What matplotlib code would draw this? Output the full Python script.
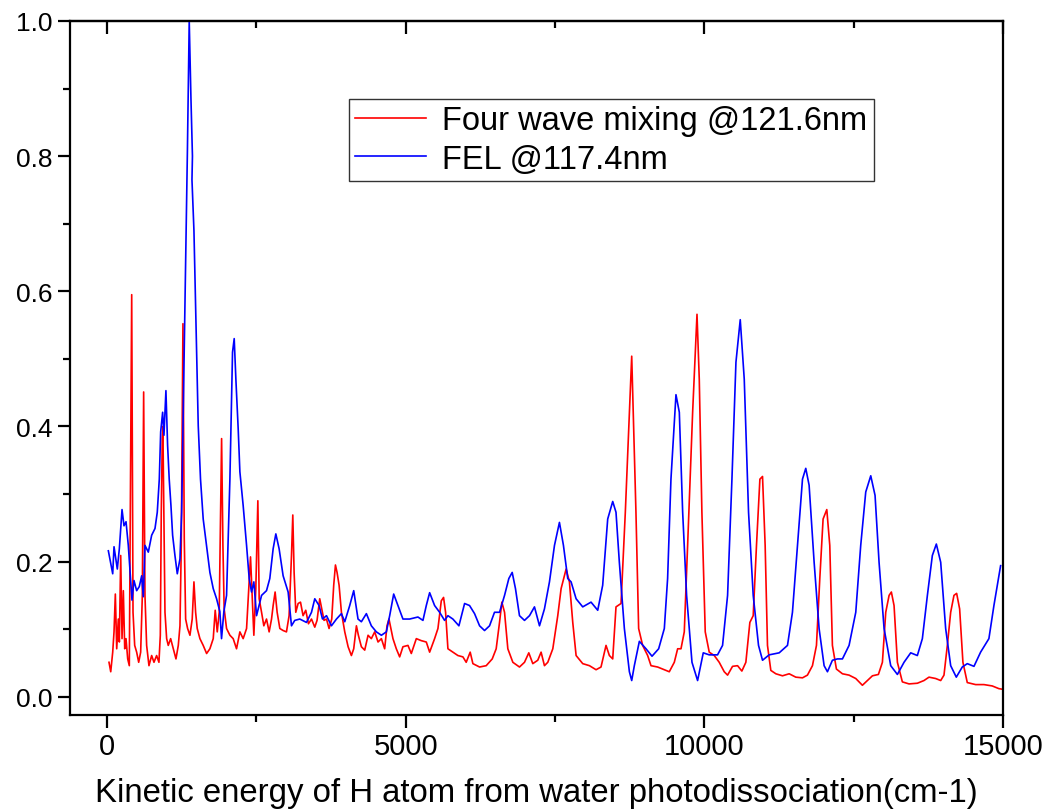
import matplotlib
matplotlib.use("Agg")
import matplotlib.pyplot as plt
from matplotlib.ticker import MultipleLocator

plt.rcParams['font.family'] = ['Liberation Sans', 'DejaVu Sans']

# Four wave mixing @121.6nm (red)
red_x = [33, 62, 95, 117, 139, 162, 189, 206, 229, 251, 273, 296, 318, 346, 373, 390, 413, 435, 463, 496,
         530, 563, 591, 613, 635, 663, 702, 747, 786, 830, 869, 892, 908, 925, 935, 948, 970, 998, 1025, 1065,
         1109, 1154, 1193, 1221, 1243, 1271, 1293, 1316, 1349, 1388, 1426, 1455, 1483, 1510, 1555, 1610, 1667,
         1722, 1778, 1811, 1845, 1878, 1901, 1918, 1940, 1961, 2001, 2057, 2112, 2168, 2224, 2279, 2336, 2363,
         2402, 2436, 2458, 2491, 2525, 2547, 2587, 2625, 2670, 2714, 2754, 2781, 2814, 2848, 2893, 2948, 3004,
         3048, 3088, 3110, 3132, 3160, 3199, 3239, 3282, 3327, 3372, 3423, 3478, 3516, 3561, 3595, 3633, 3674,
         3717, 3762, 3795, 3824, 3851, 3885, 3924, 3980, 4036, 4091, 4130, 4175, 4208, 4258, 4314, 4370, 4425,
         4481, 4537, 4593, 4648, 4687, 4720, 4787, 4843, 4899, 4954, 5038, 5094, 5178, 5262, 5345, 5401, 5484,
         5540, 5596, 5634, 5668, 5707, 5790, 5874, 5958, 6013, 6080, 6125, 6237, 6348, 6449, 6515, 6571, 6610,
         6655, 6710, 6794, 6905, 6989, 7061, 7128, 7211, 7267, 7323, 7379, 7463, 7546, 7602, 7686, 7741, 7797,
         7853, 7964, 8076, 8187, 8270, 8354, 8410, 8466, 8521, 8605, 8677, 8784, 8855, 8900, 8967, 9051, 9107,
         9218, 9302, 9413, 9497, 9553, 9609, 9664, 9720, 9804, 9877, 9915, 9959, 10015, 10082, 10166, 10249,
         10333, 10389, 10472, 10556, 10628, 10695, 10762, 10818, 10873, 10930, 10974, 11018, 11057, 11113,
         11197, 11308, 11420, 11531, 11643, 11726, 11810, 11877, 11933, 11988, 12050, 12100, 12144, 12211,
         12312, 12423, 12535, 12646, 12730, 12814, 12914, 12981, 13037, 13093, 13131, 13176, 13232, 13315,
         13427, 13566, 13677, 13761, 13872, 13957, 14012, 14068, 14124, 14179, 14224, 14274, 14329, 14402,
         14542, 14681, 14820, 14931, 15000]
red_y = [0.051, 0.037, 0.066, 0.096, 0.152, 0.071, 0.115, 0.081, 0.209, 0.086, 0.157, 0.071, 0.086, 0.056,
         0.046, 0.273, 0.595, 0.125, 0.076, 0.066, 0.051, 0.066, 0.150, 0.451, 0.150, 0.076, 0.046, 0.061,
         0.051, 0.061, 0.051, 0.091, 0.273, 0.382, 0.400, 0.300, 0.125, 0.086, 0.076, 0.086, 0.071, 0.056,
         0.076, 0.105, 0.224, 0.552, 0.234, 0.115, 0.101, 0.091, 0.115, 0.170, 0.125, 0.101, 0.086, 0.076,
         0.064, 0.071, 0.086, 0.128, 0.096, 0.125, 0.273, 0.382, 0.224, 0.130, 0.101, 0.091, 0.086, 0.071,
         0.096, 0.086, 0.101, 0.145, 0.207, 0.135, 0.091, 0.160, 0.290, 0.145, 0.125, 0.105, 0.115, 0.096,
         0.115, 0.135, 0.155, 0.125, 0.101, 0.098, 0.096, 0.120, 0.209, 0.269, 0.184, 0.125, 0.138, 0.140,
         0.120, 0.128, 0.108, 0.115, 0.103, 0.113, 0.145, 0.130, 0.113, 0.115, 0.101, 0.115, 0.165, 0.195,
         0.184, 0.165, 0.125, 0.096, 0.074, 0.061, 0.071, 0.105, 0.091, 0.074, 0.069, 0.091, 0.086, 0.096,
         0.081, 0.086, 0.071, 0.105, 0.115, 0.086, 0.071, 0.059, 0.074, 0.076, 0.064, 0.086, 0.083, 0.081,
         0.066, 0.086, 0.101, 0.142, 0.147, 0.125, 0.071, 0.066, 0.061, 0.059, 0.051, 0.066, 0.049, 0.044,
         0.046, 0.056, 0.071, 0.110, 0.140, 0.125, 0.071, 0.051, 0.044, 0.051, 0.065, 0.049, 0.054, 0.066,
         0.046, 0.051, 0.071, 0.120, 0.160, 0.189, 0.170, 0.110, 0.061, 0.049, 0.046, 0.040, 0.044, 0.076,
         0.061, 0.056, 0.133, 0.138, 0.273, 0.504, 0.273, 0.101, 0.076, 0.061, 0.046, 0.044, 0.041, 0.037,
         0.051, 0.071, 0.071, 0.096, 0.224, 0.421, 0.566, 0.470, 0.273, 0.096, 0.066, 0.061, 0.051, 0.037,
         0.032, 0.045, 0.046, 0.038, 0.051, 0.110, 0.120, 0.224, 0.322, 0.326, 0.224, 0.076, 0.039, 0.034,
         0.031, 0.034, 0.029, 0.028, 0.032, 0.046, 0.076, 0.175, 0.263, 0.277, 0.224, 0.076, 0.041, 0.034,
         0.032, 0.027, 0.017, 0.024, 0.031, 0.033, 0.051, 0.125, 0.150, 0.155, 0.135, 0.051, 0.022, 0.019,
         0.020, 0.024, 0.029, 0.027, 0.024, 0.032, 0.076, 0.125, 0.150, 0.153, 0.130, 0.051, 0.021, 0.018,
         0.018, 0.016, 0.012, 0.011]

# FEL @117.4nm (blue)
blue_x = [22, 95, 117, 172, 206, 251, 284, 318, 356, 385, 418, 451, 496, 540, 580, 607, 635, 691, 747, 803,
          841, 875, 898, 931, 953, 986, 1014, 1041, 1070, 1098, 1137, 1176, 1221, 1249, 1276, 1300, 1346, 1376,
          1405, 1430, 1422, 1455, 1488, 1527, 1565, 1610, 1665, 1722, 1778, 1834, 1889, 1917, 1956, 2001, 2057,
          2101, 2129, 2157, 2196, 2224, 2279, 2336, 2380, 2419, 2458, 2503, 2587, 2670, 2725, 2781, 2826, 2881,
          2948, 3032, 3088, 3143, 3227, 3339, 3423, 3478, 3550, 3607, 3674, 3757, 3841, 3924, 3980, 4063, 4130,
          4202, 4258, 4342, 4425, 4509, 4593, 4676, 4732, 4799, 4871, 4954, 5066, 5205, 5289, 5345, 5401, 5484,
          5568, 5651, 5707, 5790, 5891, 5986, 6069, 6153, 6237, 6320, 6404, 6487, 6571, 6655, 6727, 6783, 6838,
          6905, 6989, 7073, 7156, 7240, 7323, 7407, 7491, 7574, 7641, 7713, 7769, 7853, 7964, 8103, 8215, 8298,
          8382, 8466, 8521, 8577, 8661, 8745, 8784, 8828, 8912, 9023, 9124, 9235, 9330, 9385, 9441, 9525, 9581,
          9637, 9703, 9793, 9887, 9982, 10082, 10221, 10305, 10389, 10462, 10529, 10601, 10668, 10740, 10818,
          10907, 10974, 11085, 11253, 11392, 11475, 11559, 11643, 11698, 11754, 11838, 11921, 12005, 12061,
          12144, 12228, 12312, 12423, 12535, 12618, 12702, 12786, 12858, 12925, 13009, 13120, 13232, 13343,
          13455, 13566, 13650, 13734, 13817, 13884, 13957, 14040, 14124, 14218, 14318, 14402, 14514, 14625,
          14764, 14848, 14960]
blue_y = [0.216, 0.182, 0.222, 0.189, 0.219, 0.277, 0.253, 0.259, 0.224, 0.185, 0.143, 0.172, 0.157, 0.163,
          0.179, 0.148, 0.224, 0.214, 0.239, 0.249, 0.273, 0.322, 0.392, 0.421, 0.387, 0.453, 0.372, 0.322,
          0.283, 0.239, 0.209, 0.182, 0.204, 0.273, 0.420, 0.560, 0.810, 1.000, 0.885, 0.800, 0.765, 0.690,
          0.560, 0.401, 0.322, 0.263, 0.224, 0.184, 0.160, 0.145, 0.126, 0.086, 0.126, 0.150, 0.322, 0.510,
          0.530, 0.470, 0.396, 0.333, 0.283, 0.224, 0.175, 0.155, 0.170, 0.120, 0.150, 0.157, 0.175, 0.219,
          0.241, 0.219, 0.179, 0.155, 0.105, 0.113, 0.115, 0.110, 0.125, 0.145, 0.135, 0.115, 0.120, 0.105,
          0.115, 0.123, 0.111, 0.135, 0.157, 0.115, 0.111, 0.123, 0.105, 0.096, 0.091, 0.096, 0.120, 0.152,
          0.135, 0.115, 0.115, 0.118, 0.113, 0.135, 0.154, 0.135, 0.125, 0.113, 0.120, 0.115, 0.105, 0.138,
          0.135, 0.123, 0.105, 0.098, 0.105, 0.125, 0.125, 0.150, 0.175, 0.184, 0.160, 0.120, 0.113, 0.120,
          0.133, 0.105, 0.130, 0.170, 0.224, 0.258, 0.224, 0.175, 0.170, 0.145, 0.133, 0.140, 0.128, 0.165,
          0.263, 0.289, 0.273, 0.199, 0.101, 0.037, 0.024, 0.046, 0.082, 0.071, 0.060, 0.071, 0.101, 0.175,
          0.322, 0.447, 0.421, 0.273, 0.150, 0.051, 0.024, 0.065, 0.062, 0.062, 0.076, 0.150, 0.322, 0.495,
          0.558, 0.470, 0.273, 0.150, 0.076, 0.054, 0.062, 0.065, 0.076, 0.125, 0.224, 0.322, 0.338, 0.313,
          0.199, 0.101, 0.046, 0.037, 0.054, 0.056, 0.056, 0.076, 0.125, 0.224, 0.303, 0.327, 0.298, 0.199,
          0.101, 0.046, 0.033, 0.051, 0.065, 0.061, 0.086, 0.150, 0.209, 0.226, 0.199, 0.101, 0.046, 0.029,
          0.044, 0.049, 0.045, 0.066, 0.086, 0.135, 0.194]

fig = plt.figure(figsize=(10.42, 8.12), dpi=100)
ax = fig.add_axes([70/1042, 96/812, 933/1042, 694/812])

ax.plot(red_x, red_y, color='red', lw=1.2, label='Four wave mixing @121.6nm')
ax.plot(blue_x, blue_y, color='blue', lw=1.2, label='FEL @117.4nm')

ax.set_xlim(-620, 15000)
ax.set_ylim(-0.027, 1.0)

ax.xaxis.set_major_locator(MultipleLocator(5000))
ax.xaxis.set_minor_locator(MultipleLocator(2500))
ax.yaxis.set_major_locator(MultipleLocator(0.2))
ax.yaxis.set_minor_locator(MultipleLocator(0.1))
ax.yaxis.set_major_formatter(plt.FormatStrFormatter('%.1f'))

for s in ax.spines.values():
    s.set_linewidth(1.6)
ax.tick_params(which='both', direction='out', width=1.6, top=False, right=False)
ax.tick_params(axis='y', labelsize=19)
ax.tick_params(axis='x', labelsize=21)
ax.tick_params(which='major', length=9)
ax.tick_params(which='minor', length=5)

# inward ticks on top axis, like Origin
top = ax.secondary_xaxis('top')
top.xaxis.set_major_locator(MultipleLocator(5000))
top.xaxis.set_minor_locator(MultipleLocator(2500))
top.tick_params(which='both', direction='in', width=1.6, labeltop=False)
top.tick_params(which='major', length=9)
top.tick_params(which='minor', length=5)
top.spines['top'].set_linewidth(1.6)

ax.set_xlabel('Kinetic energy of H atom from water photodissociation(cm-1)', fontsize=23.7, labelpad=12)

leg = ax.legend(loc='upper left', bbox_to_anchor=(0.299, 0.888), fontsize=23.5, frameon=True,
                fancybox=False, borderaxespad=0, handlelength=2.15, handletextpad=0.5,
                labelspacing=0.23, borderpad=0.2)
leg.get_frame().set_edgecolor('black')
leg.get_frame().set_linewidth(1.0)

fig.savefig('out.png', dpi=100)
